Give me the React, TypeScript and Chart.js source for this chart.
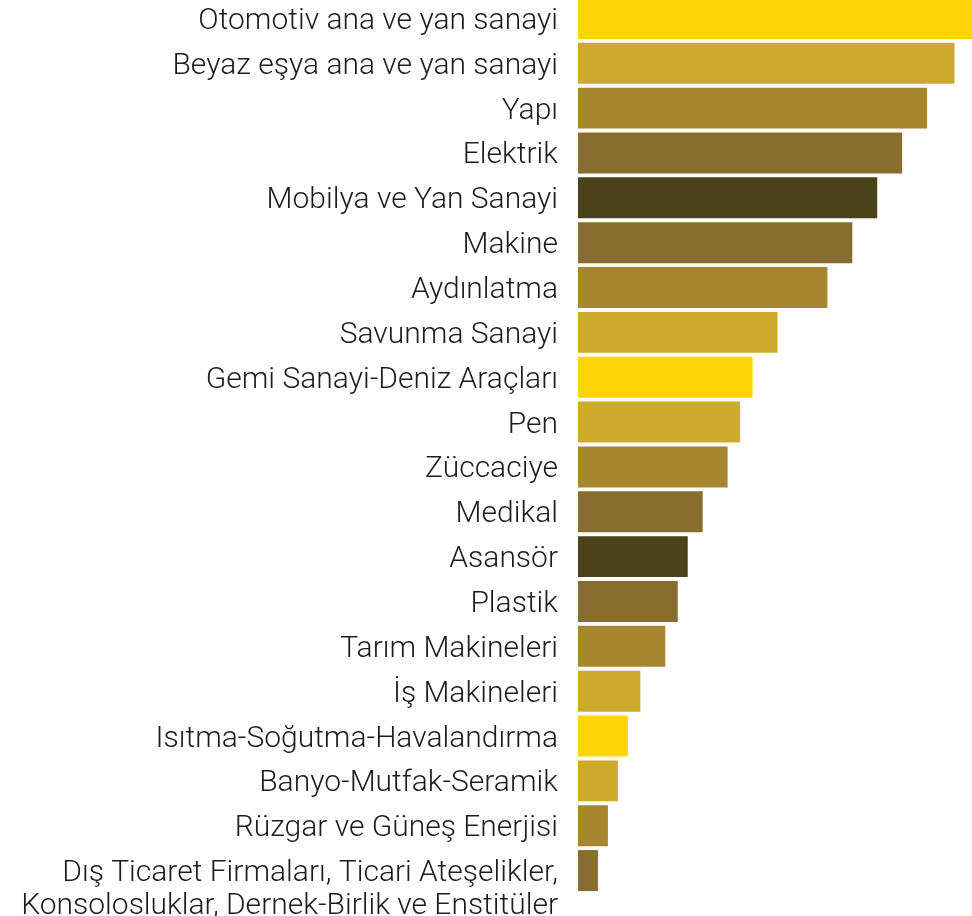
import React, { useEffect, useRef } from "react";
import { Chart, registerables } from "chart.js";

Chart.register(...registerables);

// Sector names; the last one is split over lines (leading blank line keeps
// the first text line level with its bar).
const sectors: (string | string[])[] = [
  "Otomotiv ana ve yan sanayi",
  "Beyaz eşya ana ve yan sanayi",
  "Yapı",
  "Elektrik",
  "Mobilya ve Yan Sanayi",
  "Makine",
  "Aydınlatma",
  "Savunma Sanayi",
  "Gemi Sanayi-Deniz Araçları",
  "Pen",
  "Züccaciye",
  "Medikal",
  "Asansör",
  "Plastik",
  "Tarım Makineleri",
  "İş Makineleri",
  "Isıtma-Soğutma-Havalandırma",
  "Banyo-Mutfak-Seramik",
  "Rüzgar ve Güneş Enerjisi",
  ["", "Dış Ticaret Firmaları, Ticari Ateşelikler,", "Konsolosluklar, Dernek-Birlik ve Enstitüler"],
];

const counts: number[] = [158, 151, 140, 130, 120, 110, 100, 80, 70, 65, 60, 50, 44, 40, 35, 25, 20, 16, 12, 8];

const YELLOW = "#FFD30A";
const GOLD = "#CEAA2B";
const OCHRE = "#A6862F";
const BRONZE = "#876E2E";
const OLIVE = "#4A4219";

const barColors: string[] = [
  YELLOW, GOLD, OCHRE, BRONZE, OLIVE,
  BRONZE, OCHRE, GOLD, YELLOW, GOLD,
  OCHRE, BRONZE, OLIVE, BRONZE, OCHRE,
  GOLD, YELLOW, GOLD, OCHRE, BRONZE,
];

const LABEL_AREA = 578;

export default function App() {
  const canvasRef = useRef<HTMLCanvasElement | null>(null);

  useEffect(() => {
    document.body.style.margin = "0";
    document.body.style.overflow = "hidden";
    const canvas = canvasRef.current;
    if (!canvas) return;
    const chart = new Chart(canvas, {
      type: "bar",
      data: {
        labels: sectors,
        datasets: [
          {
            data: counts,
            backgroundColor: barColors,
            borderWidth: 0,
            categoryPercentage: 1,
            barPercentage: 0.914,
          },
        ],
      },
      options: {
        indexAxis: "y",
        animation: false,
        responsive: true,
        maintainAspectRatio: false,
        layout: { padding: { top: 0, left: 0, right: 0, bottom: 26 } },
        plugins: {
          legend: { display: false },
          tooltip: { enabled: false },
        },
        scales: {
          x: {
            display: false,
            min: 0,
            max: Math.max(...counts),
          },
          y: {
            grid: { display: false, drawTicks: false },
            border: { display: false },
            ticks: {
              padding: 20,
              labelOffset: 3,
              color: "#1c1c1c",
              font: { family: "Roboto", size: 30, weight: 300, lineHeight: 1.1 },
              autoSkip: false,
            },
            afterFit: (scale: any) => {
              // fixed label column; labels may run past the plot's edges
              scale.width = LABEL_AREA;
              scale.paddingTop = 0;
              scale.paddingBottom = 0;
            },
          },
        },
      },
    });
    return () => chart.destroy();
  }, []);

  return (
    <div style={{ position: "absolute", left: 0, top: -4, width: 972, height: 923 }}>
      <canvas ref={canvasRef} />
    </div>
  );
}
